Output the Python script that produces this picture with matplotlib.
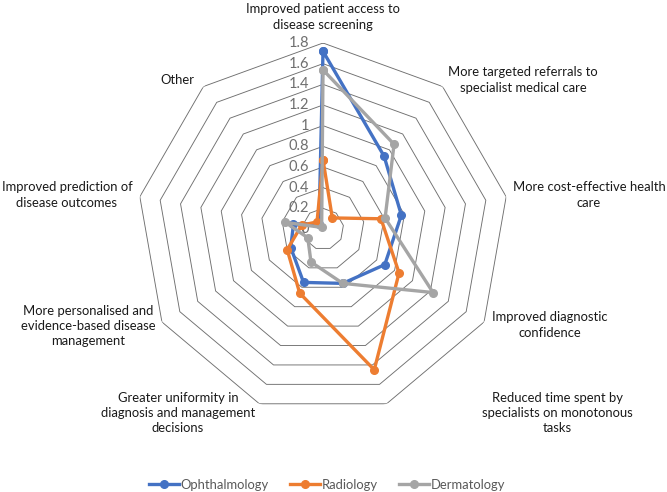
import numpy as np
import matplotlib
matplotlib.use('Agg')
import matplotlib.pyplot as plt

plt.rcParams['font.family'] = ['Lato', 'DejaVu Sans']

categories = ['Improved patient access to\ndisease screening',
              'More targeted referrals to\nspecialist medical care',
              'More cost-effective health\ncare',
              'Improved diagnostic\nconfidence',
              'Reduced time spent by\nspecialists on monotonous\ntasks',
              'Greater uniformity in\ndiagnosis and management\ndecisions',
              'More personalised and\nevidence-based disease\nmanagement',
              'Improved prediction of\ndisease outcomes',
              'Other']

ophthalmology = [1.72, 0.92, 0.77, 0.69, 0.56, 0.55, 0.36, 0.29, 0.06]
radiology = [0.67, 0.14, 0.57, 0.85, 1.45, 0.66, 0.40, 0.21, 0.09]
dermatology = [1.54, 1.07, 0.61, 1.23, 0.56, 0.34, 0.17, 0.37, 0.02]

series = [('Ophthalmology', ophthalmology, '#4472C4'),
          ('Radiology', radiology, '#ED7D31'),
          ('Dermatology', dermatology, '#A5A5A5')]

rings = [0.2, 0.4, 0.6, 0.8, 1.0, 1.2, 1.4, 1.6, 1.8]
ring_labels = ['0', '0.2', '0.4', '0.6', '0.8', '1', '1.2', '1.4', '1.6', '1.8']

# label centres in pixels (x, y from top) for the category names
label_pos = [(323, 17), (523, 80), (589, 195), (550, 325), (557, 413),
             (178, 413), (88, 326), (67, 195), (177, 80)]

W, H = 667, 492
fig = plt.figure(figsize=(W / 100, H / 100), dpi=100)
cx, cy, R = 323, 229, 186
ax = fig.add_axes([(cx - R) / W, 1 - (cy + R) / H, 2 * R / W, 2 * R / H], projection='polar')
ax.set_theta_zero_location('N')
ax.set_theta_direction(-1)
ax.set_ylim(0, 1.8)
ax.axis('off')

n = len(categories)
angles = np.linspace(0, 2 * np.pi, n, endpoint=False)
closed = np.append(angles, angles[0])

for r in rings:
    ax.plot(closed, [r] * (n + 1), color='#6f6f6f', lw=0.65, zorder=1)

for i, lab in enumerate(ring_labels):
    v = i * 0.2
    ax.annotate(lab, xy=(0, v), xytext=(-10, 0), textcoords='offset points',
                ha='right', va='center', fontsize=10.5, color='#6f6f6f', zorder=2)

for name, vals, col in series:
    ax.plot(closed, vals + vals[:1], color=col, lw=2.4, marker='o', ms=5.5,
            label=name, zorder=3, clip_on=False)

for lab, (x, y) in zip(categories, label_pos):
    fig.text(x / W, 1 - y / H, lab, ha='center', va='center', fontsize=9.4,
             color='#1a1a1a', linespacing=1.32)

fig.legend(loc='center', bbox_to_anchor=(327 / W, 1 - 485 / H), ncol=3, frameon=False,
           fontsize=9.4, handlelength=2.3, columnspacing=1.6, handletextpad=0.15,
           labelcolor='#595959')

fig.savefig('out.png', dpi=100)
